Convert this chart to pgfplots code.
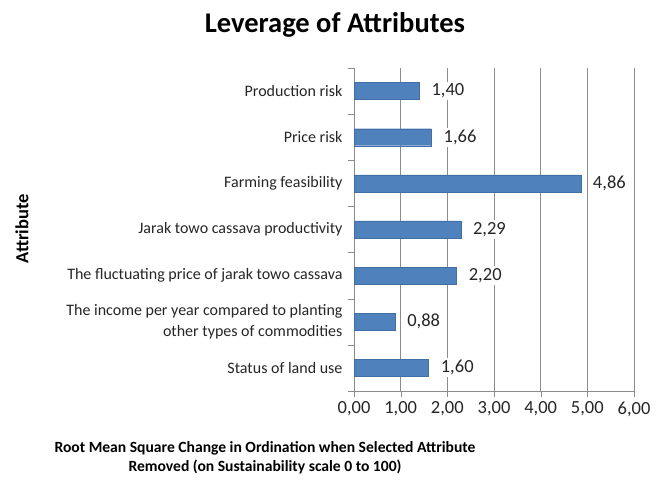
\documentclass[border=0pt]{standalone}
\usepackage{pgfplots}
\pgfplotsset{compat=1.18}
\usepackage{fontspec}
\setmainfont{Carlito}
\definecolor{barblue}{RGB}{79,129,189}
\definecolor{baredge}{RGB}{65,110,165}
\definecolor{gridgray}{RGB}{140,140,140}
\begin{document}
\begin{tikzpicture}
\path[use as bounding box,fill=white] (0pt,0pt) rectangle (664pt,481pt);
\node[font=\bfseries\fontsize{28.5}{32}\selectfont] at (335pt,456pt) {Leverage of Attributes};
\node[font=\bfseries\fontsize{15.6}{19}\selectfont,align=center] at (265pt,23pt) {Root Mean Square Change in Ordination when Selected Attribute\\Removed (on Sustainability scale 0 to 100)};
\node[font=\bfseries\fontsize{18.5}{20}\selectfont,rotate=90] at (22pt,252pt) {Attribute};
\begin{axis}[
  at={(354pt,90pt)}, anchor=south west,
  scale only axis, width=280pt, height=323pt,
  xbar, bar width=17pt,
  xmin=0, xmax=6, ymin=-0.5, ymax=6.5,
  axis x line=bottom, axis y line=left,
  axis line style={gridgray,-},
  xtick={0,1,...,6},
  ytick={0,...,6},
  yticklabels={{Status of land use},{The income per year compared to planting\\other types of commodities},{The fluctuating price of jarak towo cassava},{Jarak towo cassava productivity},{Farming feasibility},{Price risk},{Production risk}},
  yticklabel style={align=right,font=\fontsize{16}{21}\selectfont,text=black!85,xshift=-8pt},
  xticklabel style={font=\fontsize{18.5}{20}\selectfont,text=black!85,yshift=-7pt},
  minor ytick={-0.5,0.5,...,6.5},
  major tick length=0pt,
  minor tick length=6pt,
  tick align=outside,
  tick style={gridgray},
  extra x ticks={0,1,...,6}, extra x tick labels={},
  extra x tick style={major tick length=6pt, tick align=outside, grid=major, major grid style={gridgray,line width=0.6pt}},
  /pgf/number format/.cd, fixed, fixed zerofill, precision=2, use comma, assume math mode=true,
  /pgfplots/.cd,
  nodes near coords,
  nodes near coords style={font=\fontsize{18.5}{20}\selectfont,text=black!85,anchor=west,xshift=10pt,fill=white,inner sep=2pt,
    /pgf/number format/.cd, fixed, fixed zerofill, precision=2, use comma, assume math mode=true},
  clip=false,
]
\addplot[fill=barblue,draw=baredge] coordinates {(1.60,0) (0.88,1) (2.20,2) (2.29,3) (4.86,4) (1.66,5) (1.40,6)};
\end{axis}
\end{tikzpicture}
\end{document}
